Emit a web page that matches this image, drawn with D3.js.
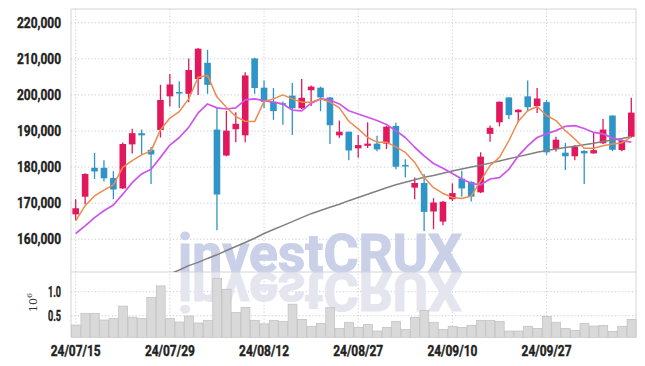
<!DOCTYPE html>
<html>
<head>
<meta charset="utf-8">
<script src="https://cdn.jsdelivr.net/npm/d3@7"></script>
<style>
  body { margin: 0; background: #fff; }
  text { font-family: Roboto, "DejaVu Sans", sans-serif; }
</style>
</head>
<body>
<div id="chart"></div>
<script>
// trading days (yy/mm/dd)
const dates = [
  "24/07/15","24/07/16","24/07/17","24/07/18","24/07/19","24/07/22","24/07/23","24/07/24","24/07/25","24/07/26",
  "24/07/29","24/07/30","24/07/31","24/08/01","24/08/02","24/08/05","24/08/06","24/08/07","24/08/08","24/08/09",
  "24/08/12","24/08/13","24/08/14","24/08/16","24/08/19","24/08/20","24/08/21","24/08/22","24/08/23","24/08/26",
  "24/08/27","24/08/28","24/08/29","24/08/30","24/09/02","24/09/03","24/09/04","24/09/05","24/09/06","24/09/09",
  "24/09/10","24/09/11","24/09/12","24/09/13","24/09/19","24/09/20","24/09/23","24/09/24","24/09/25","24/09/26",
  "24/09/27","24/09/30","24/10/02","24/10/04","24/10/07","24/10/08","24/10/10","24/10/11","24/10/14","24/10/15"
];

const opens = [
  166900,171800,179800,179800,177000,174100,186300,189400,184800,190300,
  199600,200800,200300,204400,208900,190400,183200,190500,188800,210100,
  202000,198100,197700,199800,196300,201300,202000,199300,188800,189800,
  185200,185900,186500,186500,191400,180600,174300,175600,167700,164900,
  171100,176800,175900,173000,189200,192400,199300,195200,199600,196900,
  198000,185000,184000,183000,184500,183800,186600,194300,184700,188400
];
const highs = [
  171100,178300,183900,181900,178900,186800,190600,190400,185600,202800,
  205800,203800,210100,213000,212500,196400,195600,195200,206300,210300,
  204000,201900,198200,203300,204400,202600,202300,199400,192900,189800,
  188900,192400,188700,191400,192300,182200,177100,178100,171400,170600,
  175500,179000,176100,184100,191500,198200,199400,196000,204000,201900,
  198600,188400,186700,186100,184700,189600,193300,194300,187700,199200
];
const lows = [
  165300,169700,176700,176000,171100,173900,183800,183400,175300,188200,
  196800,196400,198000,200000,200300,162500,183000,186900,186900,200300,
  196400,193100,191700,188900,196100,196900,195500,186400,188100,181900,
  182600,185300,184400,185000,179400,177100,171100,162300,162800,163900,
  170600,171800,170500,172800,187000,191300,193300,192400,195400,195000,
  183400,184300,179200,181900,175300,183700,186400,184400,184400,188100
];
const closes = [
  168600,178100,178800,176900,173800,186400,189400,188800,183500,198600,
  202900,200600,206900,212800,202800,172400,190100,192000,205400,201900,
  198100,195500,197500,196300,199200,202300,199300,191600,189800,184600,
  186100,186500,184900,191200,180100,180400,175600,167600,170200,170400,
  172800,174100,171800,182900,190900,198100,194400,195900,196600,199000,
  184100,187600,183000,185600,183800,184700,190400,184800,187500,195100
];

// moving averages as drawn (orange, purple, grey)
const ma5 = [
  165100,169300,172000,173600,175100,179900,181800,183400,184500,190300,
  193600,195400,198900,204900,205400,199400,196600,194000,192700,192600,
  198200,198900,200000,198900,198000,198000,198900,198000,196400,192700,
  190600,188200,186900,186900,185600,184100,181300,177100,174300,172700,
  171600,171300,172000,176200,180400,182700,187300,192700,195600,196800,
  194300,192900,190100,187800,185200,185200,185900,186400,186700,188400
];
const ma20 = [
  161600,163700,166000,167900,169500,172500,175700,178100,179400,182700,
  186100,188200,191000,195000,197500,196400,196100,196400,198600,198900,
  198400,198000,197500,195800,195600,197700,198900,198600,197500,195600,
  194700,193800,192900,191800,190100,188200,185500,183100,181000,179700,
  178200,176700,175500,175100,176700,177100,179400,183100,185900,188200,
  189200,190100,191300,191500,190700,189600,189200,188100,187300,186900
];
const ma60 = [
  null,null,null,null,null,null,null,null,null,null,
  150400,151500,152700,153600,154700,155700,156900,158000,159100,160300,
  161600,162700,163800,164900,166000,167100,168000,168900,169700,170700,
  171600,172500,173400,174300,175100,175800,176500,177200,177700,178300,
  178900,179500,180000,180500,181100,181700,182300,182900,183500,184100,
  184600,185000,185400,185800,186200,186600,187100,187500,187900,188400
];

// volume, shares
const volume = [
  306000,550000,550000,410000,445000,700000,470000,445000,883000,1120000,
  445000,369000,494000,348000,404000,1279000,1050000,570000,674000,404000,
  330000,404000,383000,740000,424000,280000,340000,667000,237000,363000,
  258000,320000,181000,258000,383000,216000,466000,612000,363000,216000,
  280000,258000,300000,404000,404000,383000,181000,181000,280000,237000,
  487000,363000,237000,195000,340000,285000,300000,174000,280000,424000
];

const priceTicks = [160000,170000,180000,190000,200000,210000,220000];
const volTicks = [500000,1000000];
const dateTickIdx = [0,10,20,30,40,50];

const W = 645, H = 366;
const pLeft = 71, pRight = 636, pTop = 9, pSplit = 272, pBottom = 337.3;

const svg = d3.select("#chart").append("svg")
    .attr("width", W)
    .attr("height", H);

const x = d3.scaleBand().domain(d3.range(dates.length)).range([pLeft, pRight]).padding(0);
const y = d3.scaleLinear().domain([150940, 223800]).range([pSplit, pTop]);
const yv = d3.scaleLinear().domain([50000, 1410000]).range([pBottom, pSplit]);
const cx = i => x(i) + x.bandwidth() / 2;

svg.append("clipPath").attr("id", "clipPrice")
  .append("rect").attr("x", pLeft).attr("y", pTop).attr("width", pRight - pLeft).attr("height", pSplit - pTop);

// grid
const grid = svg.append("g").attr("stroke", "#c9cbe0").attr("stroke-dasharray", "1.2,2.2").attr("stroke-width", 1);
grid.selectAll(".gy").data(priceTicks).enter().append("line")
    .attr("x1", pLeft).attr("x2", pRight)
    .attr("y1", d => y(d)).attr("y2", d => y(d));
grid.selectAll(".gv").data(volTicks).enter().append("line")
    .attr("x1", pLeft).attr("x2", pRight)
    .attr("y1", d => yv(d)).attr("y2", d => yv(d));
grid.selectAll(".gx").data(dateTickIdx).enter().append("line")
    .attr("x1", d => cx(d)).attr("x2", d => cx(d))
    .attr("y1", pTop).attr("y2", pBottom);

// watermark + its reflection
const mark = svg.append("g")
    .style("font-family", "'Liberation Sans', Arial, sans-serif")
    .style("font-weight", "bold").style("font-size", "54px");
mark.append("text")
    .attr("x", 178).attr("y", 272)
    .attr("textLength", 284).attr("lengthAdjust", "spacingAndGlyphs")
    .attr("fill", "#c9d0e8").attr("stroke", "#c9d0e8").attr("stroke-width", 1.2)
    .text("investCRUX");
mark.append("text")
    .attr("transform", "translate(0,545) scale(1,-1)")
    .attr("x", 178).attr("y", 272)
    .attr("textLength", 284).attr("lengthAdjust", "spacingAndGlyphs")
    .attr("fill", "#e5e5ef").attr("stroke", "#e5e5ef").attr("stroke-width", 1.2)
    .text("investCRUX");

// frame
const frame = svg.append("g").attr("stroke", "#d4d4d8").attr("fill", "none");
frame.append("line").attr("x1", pLeft).attr("x2", pRight).attr("y1", pTop).attr("y2", pTop);
frame.append("line").attr("x1", pLeft).attr("x2", pRight).attr("y1", pSplit).attr("y2", pSplit);
frame.append("line").attr("x1", pLeft).attr("x2", pLeft).attr("y1", pTop).attr("y2", pBottom);
frame.append("line").attr("x1", pRight).attr("x2", pRight).attr("y1", pTop).attr("y2", pBottom);

// volume bars
svg.append("g").selectAll("rect").data(volume).enter().append("rect")
    .attr("x", (d, i) => x(i) + 0.5)
    .attr("width", x.bandwidth() - 0.5)
    .attr("y", d => yv(d))
    .attr("height", d => pBottom - yv(d))
    .attr("fill", "#d9d9d9")
    .attr("stroke", "#bfbfbf")
    .attr("stroke-width", 0.7);

// candles
const up = "#e2185d", down = "#2e95c6";
const candles = svg.append("g").attr("clip-path", "url(#clipPrice)")
  .selectAll("g").data(dates).enter().append("g")
    .attr("fill", (d, i) => closes[i] >= opens[i] ? up : down)
    .attr("stroke", (d, i) => closes[i] >= opens[i] ? up : down);
candles.append("line")
    .attr("x1", (d, i) => cx(i)).attr("x2", (d, i) => cx(i))
    .attr("y1", (d, i) => y(highs[i])).attr("y2", (d, i) => y(lows[i]))
    .attr("stroke-width", 1.3);
candles.append("rect")
    .attr("x", (d, i) => cx(i) - 3.3)
    .attr("width", 6.6)
    .attr("y", (d, i) => y(Math.max(opens[i], closes[i])))
    .attr("height", (d, i) => Math.max(1.5, Math.abs(y(opens[i]) - y(closes[i]))))
    .attr("stroke", "none");

// moving average lines
const line = d3.line()
    .defined(d => d[1] != null)
    .x(d => cx(d[0]))
    .y(d => y(d[1]));
const lines = svg.append("g").attr("clip-path", "url(#clipPrice)").attr("fill", "none");
[[ma60, "#808080", 1.5], [ma20, "#cc55ea", 1.7], [ma5, "#ee8a4d", 1.5]].forEach(([s, c, w]) => {
  lines.append("path")
      .attr("d", line(s.map((v, i) => [i, v])))
      .attr("stroke", c)
      .attr("stroke-width", w)
      .attr("stroke-linejoin", "round");
});

// axes (labels squeezed to the narrow heavy face of the original)
const yAxis = svg.append("g")
    .attr("transform", `translate(${pLeft - 7},0)`)
    .call(d3.axisLeft(y).tickValues(priceTicks).tickFormat(d3.format(",")).tickSize(0));
const vAxis = svg.append("g")
    .attr("transform", `translate(${pLeft - 7},0)`)
    .call(d3.axisLeft(yv).tickValues(volTicks).tickFormat(d => d3.format(".1f")(d / 1e6)).tickSize(0));
const xAxis = svg.append("g")
    .attr("transform", `translate(0,${pBottom + 3})`)
    .call(d3.axisBottom(x).tickValues(dateTickIdx).tickFormat(i => dates[i]).tickSize(0));
[[yAxis, 44], [vAxis, 13], [xAxis, 50]].forEach(([g, len]) => {
  g.select(".domain").remove();
  g.selectAll("text")
      .style("font-family", "Roboto, 'DejaVu Sans', sans-serif")
      .style("font-weight", "bold")
      .style("font-size", "14.5px")
      .attr("textLength", len)
      .attr("lengthAdjust", "spacingAndGlyphs")
      .attr("fill", "#222")
      .attr("stroke", "#222")
      .attr("stroke-width", 0.4);
});
xAxis.selectAll("text").attr("dy", "0.85em");

// volume unit label
const unit = svg.append("text")
    .attr("transform", "translate(37,312) rotate(-90)")
    .style("font-family", "'DejaVu Serif', serif")
    .style("font-size", "11px")
    .attr("fill", "#333");
unit.append("tspan").text("10");
unit.append("tspan").attr("dy", -5).style("font-size", "8px").text("6");
</script>
</body>
</html>
